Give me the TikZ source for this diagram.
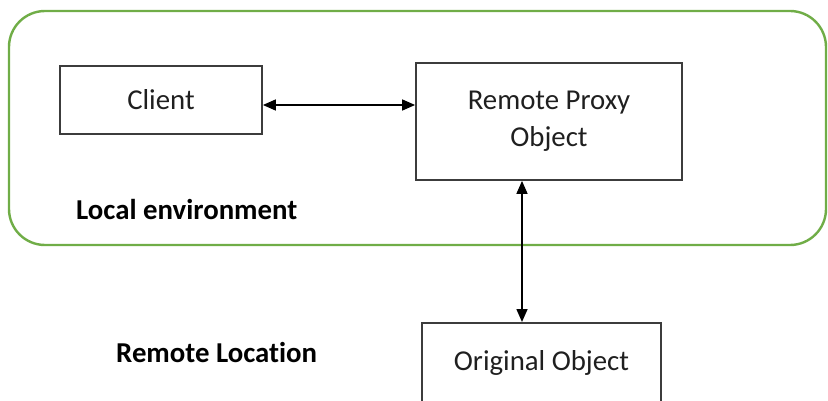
\documentclass[tikz,border=0pt]{standalone}
\usepackage{fontspec}
\setmainfont{Carlito}[Ligatures={NoCommon}]
\usetikzlibrary{arrows.meta}
\definecolor{envgreen}{RGB}{112,173,71}
\definecolor{boxgray}{RGB}{60,60,60}
\tikzset{
  blk/.style={draw=boxgray, line width=1.8pt, inner sep=0pt, align=center, font=\fontsize{28.8}{37}\selectfont, text=black!88},
  lbl/.style={inner sep=0pt, anchor=west, font=\fontsize{28.8}{34}\selectfont\bfseries},
  dbl/.style={line width=1.6pt, {Triangle[length=13pt,width=11pt]}-{Triangle[length=13pt,width=11pt]}},
}
\begin{document}
\begin{tikzpicture}[x=1pt,y=-1pt]
\useasboundingbox (0,0) rectangle (828,401);
\clip (0,0) rectangle (828,401);
\draw[envgreen, line width=2.4pt, rounded corners=36pt] (9,11) rectangle (826,245);
\node[blk, minimum width=202pt, minimum height=68pt] (client) at (161,100) {Client};
\node[blk, minimum width=266pt, minimum height=117pt] (proxy) at (549,121.5) {Remote Proxy\\Object};
\node[blk, minimum width=239pt, minimum height=80pt, anchor=north] (orig) at (541.5,322) {Original Object};
\node[lbl] (local) at (76,210) {Local environment};
\node[lbl] (remote) at (116,353) {Remote Location};
\coordinate (hy) at (0,105);
\coordinate (vx) at (522,0);
\draw[dbl] (client.east |- hy) -- (proxy.west |- hy);
\draw[dbl] (proxy.south -| vx) -- (orig.north -| vx);
\end{tikzpicture}
\end{document}
